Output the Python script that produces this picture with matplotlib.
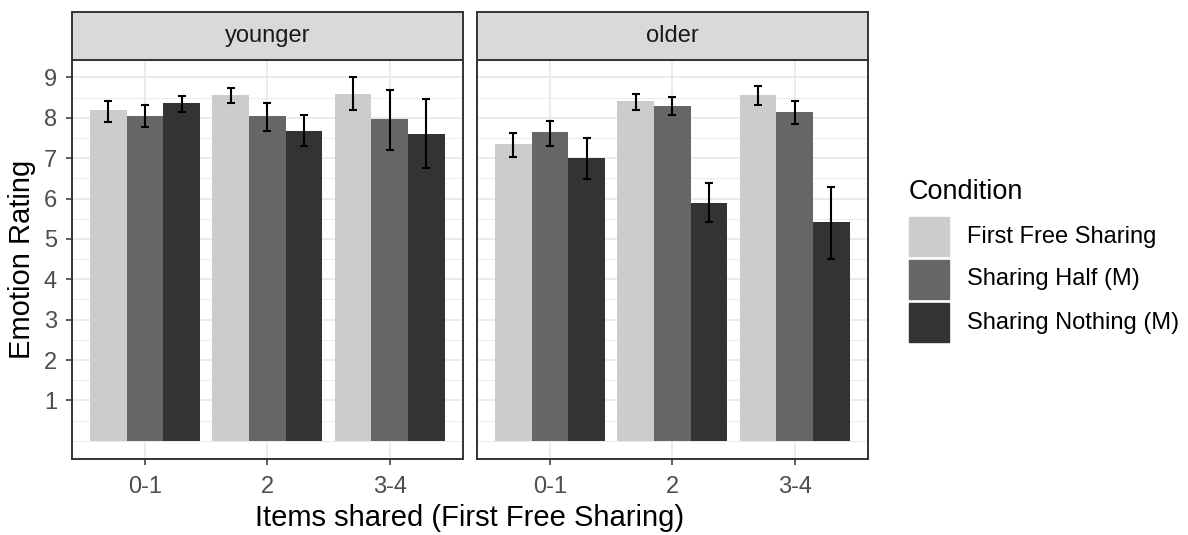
import numpy as np
import matplotlib
matplotlib.use("Agg")
import matplotlib.pyplot as plt
from matplotlib.patches import Rectangle

plt.rcParams['font.family'] = ['Liberation Sans', 'DejaVu Sans']

groups = ['younger', 'older']
items = ['0-1', '2', '3-4']
conditions = ['First Free Sharing', 'Sharing Half (M)', 'Sharing Nothing (M)']
fills = ['#CCCCCC', '#666666', '#333333']

# mean rating, rows = items shared, columns = condition
means = {
    'younger': [[8.20, 8.05, 8.37], [8.56, 8.05, 7.68], [8.60, 7.97, 7.60]],
    'older':   [[7.36, 7.64, 7.00], [8.42, 8.29, 5.90], [8.56, 8.14, 5.43]],
}
lower = {
    'younger': [[7.90, 7.77, 8.13], [8.36, 7.67, 7.31], [8.18, 7.21, 6.75]],
    'older':   [[7.02, 7.31, 6.48], [8.18, 8.08, 5.41], [8.31, 7.85, 4.50]],
}
upper = {
    'younger': [[8.41, 8.32, 8.55], [8.74, 8.36, 8.08], [9.01, 8.69, 8.46]],
    'older':   [[7.63, 7.91, 7.49], [8.60, 8.51, 6.39], [8.78, 8.41, 6.29]],
}

W, H = 1188, 535
fig = plt.figure(figsize=(W / 100, H / 100), dpi=100)


def box(x0, y0, x1, y1):
    # pixel box (top-left origin) -> figure fraction rect
    return [x0 / W, 1 - y1 / H, (x1 - x0) / W, (y1 - y0) / H]


border = '#333333'
panels = [(71.5, 463), (476.5, 868)]
x = np.arange(1, len(items) + 1)
offsets = [-0.3, 0.0, 0.3]

for k, (g, (px0, px1)) in enumerate(zip(groups, panels)):
    ax = fig.add_axes(box(px0, 60, px1, 459))
    m = np.array(means[g])
    lo = np.array(lower[g])
    hi = np.array(upper[g])
    for j in range(len(conditions)):
        ax.bar(x + offsets[j], m[:, j], width=0.3, color=fills[j], zorder=2)
        ax.errorbar(x + offsets[j], m[:, j],
                    yerr=[m[:, j] - lo[:, j], hi[:, j] - m[:, j]],
                    fmt='none', ecolor='black', elinewidth=1.5,
                    capsize=2.7, capthick=1.5, zorder=3)
    ax.set_xlim(0.4, 3.6)
    ax.set_ylim(-0.45, 9.43)
    ax.set_xticks(x)
    ax.set_xticklabels(items)
    ax.set_yticks(range(1, 10))
    ax.set_yticks([0] + [i + 0.5 for i in range(9)], minor=True)
    ax.grid(which='major', color='#EBEBEB', lw=1.4, zorder=0)
    ax.grid(which='minor', axis='y', color='#EBEBEB', lw=0.7, zorder=0)
    ax.set_axisbelow(True)
    ax.tick_params(which='minor', length=0)
    ax.tick_params(which='major', length=4, width=1.1, color=border,
                   labelsize=17, labelcolor='#4D4D4D')
    ax.tick_params(axis='x', pad=8)
    ax.tick_params(axis='y', pad=6.5)
    if k > 0:
        ax.tick_params(axis='y', left=False, labelleft=False)
    for s in ax.spines.values():
        s.set_color(border)
        s.set_linewidth(1.4)

    # facet strip
    st = fig.add_axes(box(px0, 12, px1, 60))
    st.set_facecolor('#D9D9D9')
    st.set_xticks([])
    st.set_yticks([])
    for s in st.spines.values():
        s.set_color(border)
        s.set_linewidth(1.4)
    st.text(0.5, 0.5, g, ha='center', va='center', fontsize=17,
            color='#1A1A1A', transform=st.transAxes)

fig.text(470 / W, 1 - 518 / H, 'Items shared (First Free Sharing)',
         ha='center', va='center', fontsize=21)
fig.text(22 / W, 1 - 259 / H, 'Emotion Rating', rotation=90,
         ha='center', va='center', fontsize=21)

# legend
fig.text(909 / W, 1 - 192 / H, 'Condition', ha='left', va='center', fontsize=19.5)
key_tops = [217, 260, 303]
for name, col, top in zip(conditions, fills, key_tops):
    fig.patches.append(Rectangle((909 / W, 1 - (top + 39) / H), 40 / W, 39 / H,
                                 transform=fig.transFigure, color=col))
    fig.text(967 / W, 1 - (top + 19.5) / H, name, ha='left', va='center',
             fontsize=17)

fig.savefig('out.png', dpi=100)
